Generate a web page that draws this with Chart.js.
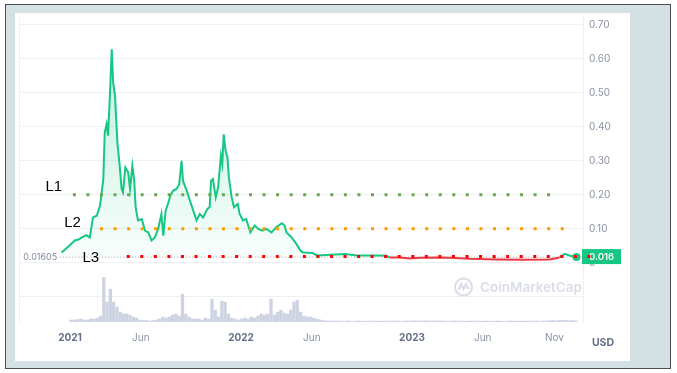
<!DOCTYPE html>
<html><head><meta charset="utf-8">
<script src="https://cdn.jsdelivr.net/npm/chart.js@4.4.0/dist/chart.umd.min.js"></script>
<style>
html,body{margin:0;padding:0;background:#fff;width:677px;height:373px;overflow:hidden;}
#frame{position:absolute;left:5px;top:4px;width:666px;height:365px;box-sizing:border-box;border:1px solid #4d4d4d;background:#d3e1e5;}
#panel{position:absolute;left:15px;top:13px;width:615px;height:348px;background:#fff;}
canvas{display:block;}
</style></head><body>
<div id="frame"></div>
<div id="panel"><canvas id="c" width="615" height="348"></canvas></div>
<script>
// ---- price series (USD) ----
const priceDates = ['2020-12-14','2021-01-01','2021-01-11','2021-01-19','2021-01-26','2021-02-05','2021-02-12','2021-02-19','2021-02-27','2021-03-06',
'2021-03-13','2021-03-16','2021-03-20','2021-03-23','2021-03-27','2021-03-31','2021-04-03','2021-04-07','2021-04-12','2021-04-17',
'2021-04-21','2021-04-24','2021-04-29','2021-05-05','2021-05-09','2021-05-14','2021-05-18','2021-05-21','2021-05-26','2021-06-03',
'2021-06-10','2021-06-17','2021-06-24','2021-07-01','2021-07-08','2021-07-15','2021-07-19','2021-07-24','2021-07-29','2021-08-03',
'2021-08-09','2021-08-16','2021-08-22','2021-08-27','2021-08-30','2021-09-07','2021-09-14','2021-09-21','2021-09-28','2021-10-05',
'2021-10-12','2021-10-21','2021-10-26','2021-10-29','2021-11-02','2021-11-08','2021-11-13','2021-11-19','2021-11-22','2021-11-25',
'2021-11-29','2021-12-03','2021-12-06','2021-12-12','2021-12-17','2021-12-25','2021-12-29','2022-01-05','2022-01-12','2022-01-21',
'2022-01-30','2022-02-07','2022-02-15','2022-02-24','2022-03-07','2022-03-17','2022-03-29','2022-04-04','2022-04-08','2022-04-19',
'2022-04-29','2022-05-08','2022-05-13','2022-06-03','2022-06-12','2022-07-02','2022-08-11','2022-09-05','2022-10-24','2022-11-07',
'2022-11-14','2022-12-06','2022-12-27','2023-01-18','2023-03-01','2023-03-22','2023-05-04','2023-06-30','2023-08-26','2023-10-22',
'2023-11-12','2023-11-23','2023-12-03','2023-12-18'];
const prices = [0.030,0.052,0.065,0.068,0.074,0.081,0.074,0.133,0.138,0.168,
0.246,0.383,0.408,0.374,0.491,0.628,0.530,0.491,0.354,0.285,
0.217,0.207,0.280,0.266,0.217,0.285,0.241,0.163,0.124,0.128,
0.094,0.089,0.065,0.074,0.099,0.143,0.079,0.153,0.173,0.197,
0.212,0.217,0.231,0.300,0.241,0.212,0.182,0.153,0.124,0.143,
0.133,0.158,0.163,0.241,0.246,0.192,0.221,0.315,0.290,0.378,
0.329,0.310,0.251,0.192,0.163,0.173,0.143,0.124,0.128,0.089,
0.109,0.099,0.094,0.099,0.089,0.104,0.116,0.109,0.089,0.074,
0.055,0.035,0.030,0.028,0.021,0.022,0.025,0.021,0.021,0.020,
0.015,0.015,0.012,0.014,0.015,0.014,0.011,0.009,0.008,0.009,
0.015,0.026,0.021,0.0162];

// ---- weekly volume (million USD) ----
const volumeDates = [
'2021-01-03','2021-01-10','2021-01-17','2021-01-24','2021-01-31','2021-02-07','2021-02-14','2021-02-21','2021-02-28','2021-03-07',
'2021-03-14','2021-03-21','2021-03-28','2021-04-04','2021-04-11','2021-04-18','2021-04-25','2021-05-02','2021-05-09','2021-05-16',
'2021-05-23','2021-05-30','2021-06-06','2021-06-13','2021-06-20','2021-06-27','2021-07-04','2021-07-11','2021-07-18','2021-07-25',
'2021-08-01','2021-08-08','2021-08-15','2021-08-22','2021-08-29','2021-09-05','2021-09-12','2021-09-19','2021-09-26','2021-10-03',
'2021-10-10','2021-10-17','2021-10-24','2021-10-31','2021-11-07','2021-11-14','2021-11-21','2021-11-28','2021-12-05','2021-12-12',
'2021-12-19','2021-12-26',
'2022-01-02','2022-01-09','2022-01-16','2022-01-23','2022-01-30','2022-02-06','2022-02-13','2022-02-20','2022-02-27','2022-03-06',
'2022-03-13','2022-03-20','2022-03-27','2022-04-03','2022-04-10','2022-04-17','2022-04-24','2022-05-01','2022-05-08','2022-05-15',
'2022-05-22','2022-05-29','2022-06-05','2022-06-12','2022-06-19','2022-06-26','2022-07-03','2022-07-10','2022-07-17','2022-07-24',
'2022-07-31','2022-08-07','2022-08-14','2022-08-21','2022-08-28','2022-09-04','2022-09-11','2022-09-18','2022-09-25','2022-10-02',
'2022-10-09','2022-10-16','2022-10-23','2022-10-30','2022-11-06','2022-11-13','2022-11-20','2022-11-27','2022-12-04','2022-12-11',
'2022-12-18','2022-12-25',
'2023-01-01','2023-01-08','2023-01-15','2023-01-22','2023-01-29','2023-02-05','2023-02-12','2023-02-19','2023-02-26','2023-03-05',
'2023-03-12','2023-03-19','2023-03-26','2023-04-02','2023-04-09','2023-04-16','2023-04-23','2023-04-30','2023-05-07','2023-05-14',
'2023-05-21','2023-05-28','2023-06-04','2023-06-11','2023-06-18','2023-06-25','2023-07-02','2023-07-09','2023-07-16','2023-07-23',
'2023-07-30','2023-08-06','2023-08-13','2023-08-20','2023-08-27','2023-09-03','2023-09-10','2023-09-17','2023-09-24','2023-10-01',
'2023-10-08','2023-10-15','2023-10-22','2023-10-29','2023-11-05','2023-11-12','2023-11-19','2023-11-26','2023-12-03','2023-12-10',
'2023-12-17'];
const volumes = [4,4,5,6,4,4,6,6,8,12,
90,40,66,40,30,20,16,16,14,10,
8,4,3,3,2,3,4,6,10,8,
10,14,16,12,56,16,10,6,6,6,
4,8,6,46,24,10,42,40,16,8,
6,4,6,8,6,10,8,12,16,14,
16,46,14,20,24,18,16,24,40,44,
20,12,10,10,8,6,4,
3,2,2,2,2,2,1.5,2,2,1.5,2,2,1.5,1.5,2,1.5,2,1.5,1.5,2,2,1.5,2,2,1.5,2,2,
2,2.5,2,2,2.5,2,2,2.5,2,2,
2,1.5,2,2,1.5,2,1.5,1.5,2,1.5,
2,1.5,1.5,2,1.5,1.5,2,1.5,1.5,1.5,
2,1.5,1.5,2,1.5,1.5,2,1.5,2,1.5,
2,2,2.5,3,2.5,3,3.5,3,2.5,3,2.5];

// ---- reference price and support levels ----
const openPrice = 0.01605;
const openLineStart = '2020-12-11';
const levelNames = ['L1','L2','L3'];
const levelValues = [0.20, 0.10, 0.018];
const levelStarts = ['2021-01-07','2021-03-06','2021-05-02'];
const levelEnds = ['2023-10-24','2023-12-13','2024-02-10'];
const levelColors = ['#6aa84f','#ff9900','#ff0000'];
const levelLabelDates = ['2020-12-15','2021-01-24','2021-03-04'];
const levelLabelValues = [0.223, 0.118, 0.015];

// ---- axes ----
const xMinDate = '2020-09-14', xMaxDate = '2024-01-01';
const xTickDates = ['2021-01-01','2021-06-01','2022-01-01','2022-06-01','2023-01-01','2023-06-01','2023-11-01'];
const xTickLabels = ['2021','Jun','2022','Jun','2023','Jun','Nov'];
const yTicks = [-0.1,0,0.1,0.2,0.3,0.4,0.5,0.6,0.7];
const priceAxisMin = -0.175, priceAxisMax = 0.7234;
const volumeAxisMax = 614;

const DAY0 = Date.parse('2021-01-01T00:00:00Z');
const toDay = d => (Date.parse(d + 'T00:00:00Z') - DAY0) / 86400000;

const GREEN = '#16c784', RED = '#ea3943';
const priceData = priceDates.map((d, i) => ({x: toDay(d), y: prices[i]}));
const volumeData = volumeDates.map((d, i) => ({x: toDay(d), y: volumes[i]}));

const levelSets = levelNames.map((n, i) => ({
  type: 'line', label: n, yAxisID: 'y', order: 0, clip: false,
  data: [{x: toDay(levelStarts[i]), y: levelValues[i]}, {x: toDay(levelEnds[i]), y: levelValues[i]}],
  borderColor: levelColors[i], borderWidth: 3, borderDash: [3, 10.55], borderCapStyle: 'butt',
  pointRadius: 0, fill: false
}));

const deco = {
  id: 'deco',
  beforeDatasetsDraw(chart) {
    const {ctx, chartArea: a, scales: {y}} = chart;
    ctx.save();
    ctx.strokeStyle = '#eef0f3'; ctx.lineWidth = 1;
    ctx.beginPath(); ctx.moveTo(a.left + 0.5, a.top); ctx.lineTo(a.left + 0.5, a.bottom); ctx.stroke();
    // watermark
    const cx = a.right - 119.5, cy = a.bottom - 35;
    ctx.strokeStyle = '#d9dde6'; ctx.lineWidth = 2;
    ctx.beginPath(); ctx.arc(cx, cy, 8.5, 0, Math.PI * 2); ctx.stroke();
    ctx.beginPath(); ctx.moveTo(cx - 5, cy + 3); ctx.lineTo(cx - 2.5, cy - 3); ctx.lineTo(cx, cy + 2);
    ctx.lineTo(cx + 2.5, cy - 3); ctx.lineTo(cx + 4, cy + 1); ctx.lineTo(cx + 6, cy + 1); ctx.stroke();
    ctx.fillStyle = '#d9dde6'; ctx.font = '600 13.5px Inter'; ctx.textAlign = 'left'; ctx.textBaseline = 'middle';
    ctx.fillText('CoinMarketCap', a.right - 103, cy + 1);
    // price badge
    const last = prices[prices.length - 1];
    const by = y.getPixelForValue(last);
    ctx.fillStyle = GREEN;
    ctx.fillRect(a.right - 1, by - 8, 39, 15);
    ctx.fillStyle = '#fff'; ctx.font = '600 9.5px Inter'; ctx.textAlign = 'center';
    ctx.fillText(last.toFixed(3), a.right + 18.5, by);
    ctx.restore();
  },
  afterDatasetsDraw(chart) {
    const {ctx, chartArea: a, scales: {x, y}} = chart;
    ctx.save();
    ctx.textBaseline = 'middle';
    ctx.fillStyle = '#000'; ctx.font = '15px "Liberation Sans", Arial, sans-serif'; ctx.textAlign = 'right';
    levelNames.forEach((n, i) => {
      ctx.fillText(n, x.getPixelForValue(toDay(levelLabelDates[i])), y.getPixelForValue(levelLabelValues[i]));
    });
    ctx.fillStyle = '#808a9d'; ctx.font = '9px Inter';
    ctx.fillText(String(openPrice), x.getPixelForValue(toDay(openLineStart)) - 3, y.getPixelForValue(openPrice) + 0.5);
    ctx.fillStyle = '#616e85'; ctx.font = 'bold 10.5px Inter'; ctx.textAlign = 'center';
    ctx.fillText('USD', a.right + 20, a.bottom + 21);
    ctx.restore();
  }
};

new Chart(document.getElementById('c'), {
  type: 'line',
  data: {
    datasets: [
      ...levelSets,
      {
        type: 'line', label: 'Price', data: priceData, yAxisID: 'y', order: 1,
        borderColor: GREEN, borderWidth: 2, tension: 0,
        segment: {borderColor: c => ((c.p0.parsed.y + c.p1.parsed.y) / 2 < openPrice ? RED : GREEN)},
        pointRadius: c => (c.dataIndex === prices.length - 1 ? 4 : 0),
        pointBackgroundColor: GREEN, pointBorderWidth: 0, pointHoverRadius: 0,
        fill: {target: {value: openPrice}, below: 'rgba(234,57,67,0.06)'},
        backgroundColor: c => {
          const ch = c.chart, a = ch.chartArea;
          if (!a || !ch.scales.y) return 'rgba(22,199,132,0.1)';
          const g = ch.ctx.createLinearGradient(0, a.top, 0, ch.scales.y.getPixelForValue(openPrice));
          g.addColorStop(0, 'rgba(22,199,132,0.30)');
          g.addColorStop(1, 'rgba(22,199,132,0.03)');
          return g;
        }
      },
      {
        type: 'line', label: 'Open', yAxisID: 'y', order: 2,
        data: [{x: toDay(openLineStart), y: openPrice}, {x: toDay(xMaxDate), y: openPrice}],
        borderColor: 'rgba(128,138,157,0.7)', borderWidth: 1, borderDash: [1, 2], pointRadius: 0, fill: false
      },
      {
        type: 'bar', label: 'Volume', data: volumeData, yAxisID: 'yv', order: 3,
        backgroundColor: '#cdd3e2', barThickness: 2.6
      }
    ]
  },
  options: {
    responsive: false, animation: false, devicePixelRatio: 1, events: [],
    layout: {padding: {left: 4, top: 2, right: 0, bottom: 0}},
    plugins: {legend: {display: false}, tooltip: {enabled: false}},
    scales: {
      x: {
        type: 'linear', min: toDay(xMinDate), max: toDay(xMaxDate), offset: false,
        grid: {display: false, drawTicks: false}, border: {display: false},
        afterBuildTicks: s => { s.ticks = xTickDates.map(d => ({value: toDay(d)})); },
        afterFit: s => { s.height = 39; s.paddingLeft = 0; s.paddingRight = 0; },
        ticks: {
          autoSkip: false, maxRotation: 0, padding: 10,
          callback: (v, i) => xTickLabels[i],
          font: c => ({family: 'Inter', size: 10, weight: /^\d{4}$/.test(xTickLabels[c.index]) ? '700' : '400'}),
          color: c => (/^\d{4}$/.test(xTickLabels[c.index]) ? '#616e85' : '#8a93a6')
        }
      },
      y: {
        type: 'linear', position: 'right', min: priceAxisMin, max: priceAxisMax,
        grid: {color: '#eef0f3', drawTicks: false}, border: {display: true, color: '#eef0f3'},
        afterBuildTicks: s => { s.ticks = yTicks.map(v => ({value: v})); },
        afterFit: s => { s.width = 47; s.paddingTop = 0; s.paddingBottom = 0; },
        ticks: {
          padding: 6, color: '#8a93a6', font: {family: 'Inter', size: 10},
          callback: v => (v < -1e-9 ? '' : Math.abs(v) < 1e-9 ? '0' : v.toFixed(2))
        }
      },
      yv: {type: 'linear', display: false, min: 0, max: volumeAxisMax}
    }
  },
  plugins: [deco]
});
</script>
</body></html>
